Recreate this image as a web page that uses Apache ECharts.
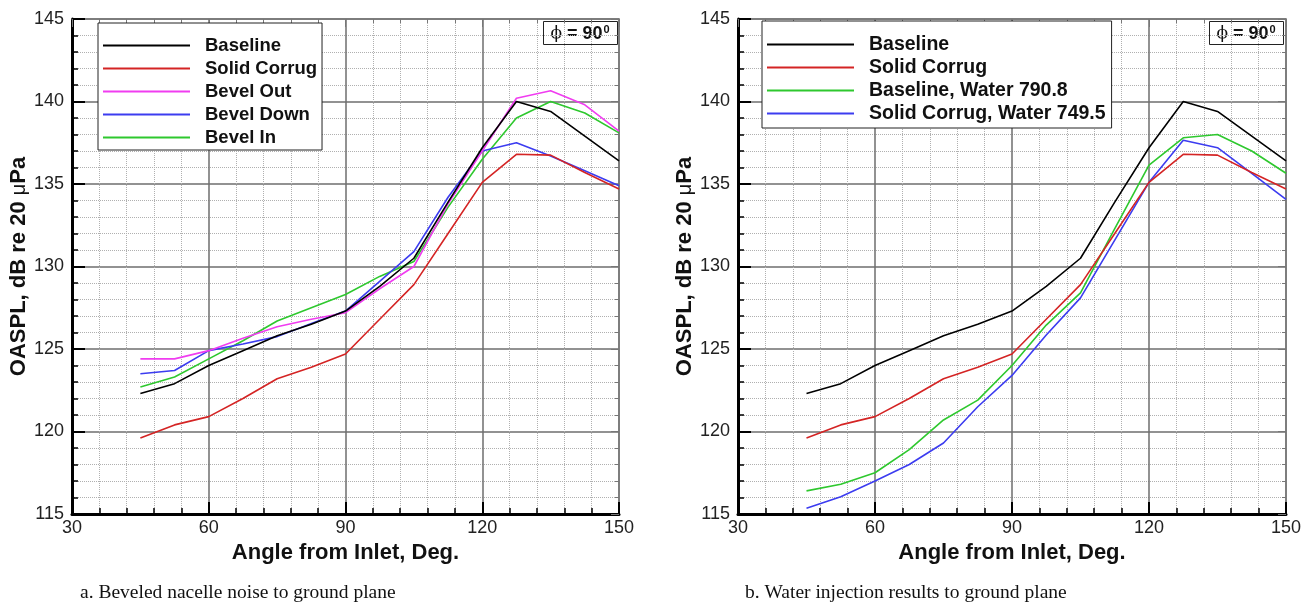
<!DOCTYPE html>
<html>
<head>
<meta charset="utf-8">
<script src="https://cdn.jsdelivr.net/npm/echarts@6/dist/echarts.min.js"></script>
<style>
  html, body { margin: 0; padding: 0; background: #fff; }
  #chart { width: 1313px; height: 611px; }
</style>
</head>
<body>
<div id="chart"></div>
<script>
// angles from inlet, deg
const angles = [45, 52.5, 60, 67.5, 75, 82.5, 90, 97.5, 105, 112.5, 120, 127.5, 135, 142.5, 150];

// panel a (beveled nacelle)
const baseline    = [122.3, 122.9, 124.0, 124.9, 125.8, 126.5, 127.3, 128.8, 130.5, 133.9, 137.2, 140.0, 139.4, 137.9, 136.4];
const solidCorrug = [119.6, 120.4, 120.9, 122.0, 123.2, 123.9, 124.7, 126.8, 128.9, 132.0, 135.1, 136.8, 136.75, 135.7, 134.7];
const bevelOut    = [124.4, 124.4, 124.9, 125.65, 126.35, 126.8, 127.2, 128.65, 130.0, 133.8, 137.0, 140.2, 140.65, 139.8, 138.2];
const bevelDown   = [123.5, 123.7, 124.9, 125.3, 125.75, 126.55, 127.3, 129.1, 130.9, 134.2, 137.0, 137.5, 136.7, 135.8, 134.9];
const bevelIn     = [122.7, 123.3, 124.4, 125.5, 126.7, 127.5, 128.3, 129.4, 130.3, 133.6, 136.5, 139.0, 140.0, 139.3, 138.1];

// panel b (water injection)
const baselineWater = [116.4, 116.8, 117.5, 118.9, 120.7, 121.9, 124.0, 126.45, 128.4, 132.3, 136.15, 137.8, 138.0, 137.0, 135.65];
const corrugWater   = [115.35, 116.05, 117.0, 118.0, 119.3, 121.5, 123.4, 125.85, 128.1, 131.6, 135.1, 137.65, 137.2, 135.65, 134.07];

const xTicks = [30, 150, 30];   // min, max, step
const yTicks = [115, 145, 5];

const namesA = ['Baseline', 'Solid Corrug', 'Bevel Out', 'Bevel Down', 'Bevel In'];
const namesB = ['Baseline', 'Solid Corrug', 'Baseline, Water 790.8', 'Solid Corrug, Water 749.5'];

const sans = 'Liberation Sans, Arial, sans-serif';
const serif = 'Liberation Serif, Times New Roman, serif';
const colors = {
  'Baseline': '#000000',
  'Solid Corrug': '#d42424',
  'Bevel Out': '#f03cf0',
  'Bevel Down': '#3c3cf0',
  'Bevel In': '#2ec82e',
  'Baseline, Water 790.8': '#2ec82e',
  'Solid Corrug, Water 749.5': '#3c3cf0'
};

function pairs(ys) { return angles.map((a, i) => [a, ys[i]]); }

function bottomAxis(g) {
  return {
    type: 'value', gridIndex: g, position: 'bottom',
    min: xTicks[0], max: xTicks[1], interval: xTicks[2],
    axisLine: { show: true, onZero: false, lineStyle: { color: '#000', width: 3 } },
    axisTick: { show: true, inside: true, length: 12, lineStyle: { color: '#000', width: 2 } },
    minorTick: { show: true, splitNumber: 5, length: 6, lineStyle: { color: '#000', width: 1.5 } },
    splitLine: { show: true, lineStyle: { color: '#6e6e6e', width: 1.5 } },
    minorSplitLine: { show: true, lineStyle: { color: '#b0b0b0', width: 1, type: 'dotted' } },
    axisLabel: { fontSize: 18, color: '#222', margin: 5, fontFamily: sans },
    name: 'Angle from Inlet, Deg.', nameLocation: 'middle', nameGap: 21,
    nameTextStyle: { fontSize: 22, fontWeight: 'bold', color: '#111', fontFamily: sans }
  };
}
function topAxis(g) {
  return {
    type: 'value', gridIndex: g, position: 'top',
    min: xTicks[0], max: xTicks[1], interval: xTicks[2],
    axisLine: { show: true, onZero: false, lineStyle: { color: '#777', width: 1.5 } },
    axisTick: { show: true, inside: true, length: 8, lineStyle: { color: '#777', width: 1 } },
    minorTick: { show: true, splitNumber: 5, length: 4, lineStyle: { color: '#777', width: 1 } },
    splitLine: { show: false }, axisLabel: { show: false }
  };
}
function leftAxis(g) {
  return {
    type: 'value', gridIndex: g, position: 'left',
    min: yTicks[0], max: yTicks[1], interval: yTicks[2],
    axisLine: { show: true, onZero: false, lineStyle: { color: '#000', width: 3 } },
    axisTick: { show: true, inside: true, length: 13, lineStyle: { color: '#000', width: 2 } },
    minorTick: { show: true, splitNumber: 5, length: 6, lineStyle: { color: '#000', width: 1.5 } },
    splitLine: { show: true, lineStyle: { color: '#6e6e6e', width: 1.5 } },
    minorSplitLine: { show: true, lineStyle: { color: '#b0b0b0', width: 1, type: 'dotted' } },
    axisLabel: { fontSize: 18, color: '#222', margin: 8, fontFamily: sans },
    name: 'OASPL, dB re 20 {mu|μ}Pa', nameLocation: 'middle', nameGap: 35,
    nameTextStyle: {
      fontSize: 22, fontWeight: 'bold', color: '#111', fontFamily: sans,
      rich: { mu: { fontSize: 20, fontWeight: 'normal', color: '#111', fontFamily: sans } }
    }
  };
}
function rightAxis(g) {
  return {
    type: 'value', gridIndex: g, position: 'right',
    min: yTicks[0], max: yTicks[1], interval: yTicks[2],
    axisLine: { show: true, onZero: false, lineStyle: { color: '#777', width: 1.5 } },
    axisTick: { show: true, inside: true, length: 8, lineStyle: { color: '#777', width: 1 } },
    minorTick: { show: true, splitNumber: 5, length: 4, lineStyle: { color: '#777', width: 1 } },
    splitLine: { show: false }, axisLabel: { show: false }
  };
}

function lineSeries(name, ys, g) {
  return {
    name: name, type: 'line', xAxisIndex: g * 2, yAxisIndex: g * 2,
    data: pairs(ys), symbol: 'none', smooth: false,
    lineStyle: { color: colors[name], width: 1.6 }, itemStyle: { color: colors[name] },
    z: 3
  };
}

function legendFor(names, left, top, pad, size) {
  return {
    data: names, orient: 'vertical', left: left, top: top,
    icon: 'rect', itemWidth: 87, itemHeight: 2, itemGap: 0,
    padding: pad,
    backgroundColor: '#fff', borderColor: '#222', borderWidth: 1, borderRadius: 0,
    selectedMode: false,
    textStyle: { fontSize: size, fontWeight: 'bold', color: '#111', fontFamily: sans,
                 lineHeight: 23, padding: [0, 0, 0, 10] }
  };
}

function phiBox(x) {
  return {
    type: 'group', left: x, top: 21, z: 100,
    children: [
      { type: 'rect', shape: { x: 0, y: 0, width: 74, height: 23 },
        style: { fill: '#fff', stroke: '#222', lineWidth: 1 } },
      { type: 'text', left: 7, top: 3,
        style: { text: '{p|ϕ} = 90{s|0}', fill: '#111',
          rich: {
            p: { fontSize: 17, fontFamily: 'DejaVu Serif', color: '#6b5a1e', fontWeight: 'normal' },
            s: { fontSize: 11, fontWeight: 'bold', fontFamily: sans, color: '#111', verticalAlign: 'top', padding: [0, 0, 8, 1] }
          },
          font: 'bold 18px ' + sans } }
    ]
  };
}

const chart = echarts.init(document.getElementById('chart'));
const option = {
  backgroundColor: '#fff',
  animation: false,
  grid: [
    { left: 72, top: 19, width: 547, height: 495 },
    { left: 738, top: 19, width: 548, height: 495 }
  ],
  xAxis: [bottomAxis(0), topAxis(0), bottomAxis(1), topAxis(1)],
  yAxis: [leftAxis(0), rightAxis(0), leftAxis(1), rightAxis(1)],
  legend: [
    legendFor(namesA, 98, 23, [11, 5, 1, 5], 18.5),
    legendFor(namesB, 762, 21, [12, 6, 3, 5], 19.5)
  ],
  title: [
    { text: 'a. Beveled nacelle noise to ground plane', left: 75, top: 578,
      textStyle: { fontSize: 19.5, fontWeight: 'normal', color: '#111', fontFamily: serif } },
    { text: 'b. Water injection results to ground plane', left: 740, top: 578,
      textStyle: { fontSize: 19.5, fontWeight: 'normal', color: '#111', fontFamily: serif } }
  ],
  graphic: [phiBox(543), phiBox(1209)],
  series: [
    lineSeries('Bevel In', bevelIn, 0),
    lineSeries('Bevel Down', bevelDown, 0),
    lineSeries('Bevel Out', bevelOut, 0),
    lineSeries('Solid Corrug', solidCorrug, 0),
    lineSeries('Baseline', baseline, 0),
    lineSeries('Solid Corrug, Water 749.5', corrugWater, 1),
    lineSeries('Baseline, Water 790.8', baselineWater, 1),
    lineSeries('Solid Corrug', solidCorrug, 1),
    lineSeries('Baseline', baseline, 1)
  ]
};
chart.setOption(option);
</script>
</body>
</html>
